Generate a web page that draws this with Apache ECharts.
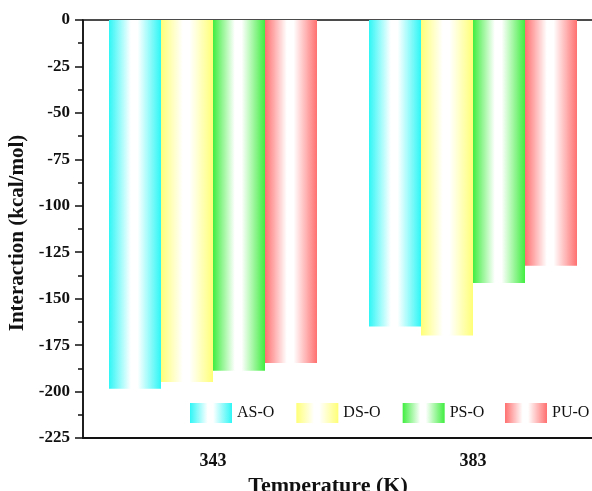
<!DOCTYPE html>
<html><head><meta charset="utf-8">
<script src="https://cdn.jsdelivr.net/npm/echarts@6/dist/echarts.min.js"></script>
<style>html,body{margin:0;padding:0;background:#fff}#c{width:592px;height:491px}</style>
</head><body><div id="c"></div>
<script>
const categories = ['343', '383'];
const seriesNames = ['AS-O', 'DS-O', 'PS-O', 'PU-O'];
const asO = [-198.5, -165];
const dsO = [-194.8, -169.8];
const psO = [-188.8, -141.6];
const puO = [-184.6, -132.3];
const yTicks = {min: -225, max: 0, interval: 25};
const baseColors = ['#2ff6f6', '#ffff77', '#40ee40', '#ff7070'];

const values = [asO, dsO, psO, puO];
function grad(c) {
  return new echarts.graphic.LinearGradient(0, 0, 1, 0, [
    {offset: 0, color: c},
    {offset: 0.42, color: '#ffffff'},
    {offset: 0.55, color: '#ffffff'},
    {offset: 1, color: c}
  ]);
}
const font = '"Liberation Serif", "Times New Roman", serif';
const legendBase = {
  top: 398, itemWidth: 42, itemHeight: 20, itemGap: 22, icon: 'rect',
  textStyle: {fontFamily: font, fontSize: 16, color: '#111'}
};
const chart = echarts.init(document.getElementById('c'));
chart.setOption({
  animation: false,
  textStyle: {fontFamily: font},
  grid: {left: 83, top: 20, height: 418, width: 520, outerBoundsMode: 'none', containLabel: false,
    show: true, borderColor: '#111', borderWidth: 1.5, backgroundColor: 'transparent'},
  legend: [
    Object.assign({}, legendBase, {data: seriesNames.slice(0, 3), left: 185}),
    Object.assign({}, legendBase, {data: seriesNames.slice(3), left: 500})
  ],
  xAxis: [{
    type: 'category', data: categories, position: 'bottom',
    axisLine: {onZero: false, lineStyle: {color: '#111', width: 1.5}},
    axisTick: {alignWithLabel: true, inside: false, length: 7, lineStyle: {color: '#111', width: 1.5}},
    axisLabel: {fontFamily: font, fontWeight: 'bold', fontSize: 18, color: '#111', margin: 14},
    name: 'Temperature (K)', nameLocation: 'middle', nameGap: 28,
    nameTextStyle: {fontFamily: font, fontWeight: 'bold', fontSize: 22, color: '#111', padding: [0, 30, 0, 0]}
  }, {
    type: 'category', data: categories, position: 'bottom',
    axisLine: {onZero: false, lineStyle: {color: '#111', width: 1.5}},
    axisTick: {alignWithLabel: false, length: 7, lineStyle: {color: '#111', width: 1.5}},
    axisLabel: {show: false}
  }],
  yAxis: {
    type: 'value', min: yTicks.min, max: yTicks.max, interval: yTicks.interval,
    axisLine: {show: true, lineStyle: {color: '#111', width: 1.5}},
    axisTick: {show: true, length: 8, lineStyle: {color: '#111', width: 1.5}},
    minorTick: {show: true, splitNumber: 2, length: 5, lineStyle: {color: '#111', width: 1.5}},
    splitLine: {show: false},
    axisLabel: {fontFamily: font, fontWeight: 'bold', fontSize: 17, color: '#111', margin: 13},
    name: 'Interaction (kcal/mol)', nameLocation: 'middle', nameGap: 49,
    nameTextStyle: {fontFamily: font, fontWeight: 'bold', fontSize: 21, color: '#111', padding: [0, 8, 0, 0]}
  },
  series: seriesNames.map((n, i) => ({
    name: n, type: 'bar', data: values[i],
    barGap: '0%', barCategoryGap: '20%',
    itemStyle: {color: grad(baseColors[i])}
  }))
});
</script></body></html>
